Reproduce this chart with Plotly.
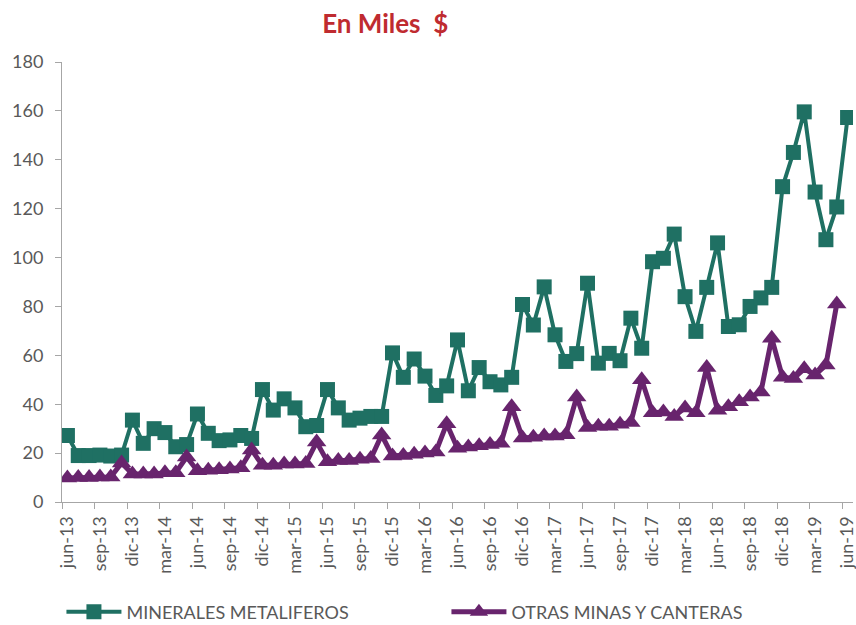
import plotly.graph_objects as go

# Etiquetas de meses (jun-13 a jun-19)
MESES_ABR = ['ene', 'feb', 'mar', 'abr', 'may', 'jun',
             'jul', 'ago', 'sep', 'oct', 'nov', 'dic']
MESES = [f"{MESES_ABR[(5 + k) % 12]}-{13 + (5 + k) // 12}" for k in range(73)]

MINERALES_METALIFEROS = [
    27.2, 19.0, 19.0, 19.2, 18.8, 19.2, 33.5, 24.0, 30.0, 28.4, 22.6, 23.5,
    36.0, 28.1, 25.1, 25.4, 27.2, 26.0, 46.0, 37.6, 42.2, 38.5, 30.8, 31.3,
    46.0, 38.5, 33.5, 34.3, 35.0, 35.0, 61.0, 51.0, 58.5, 51.5, 43.6, 47.5,
    66.3, 45.5, 55.0, 49.2, 47.9, 51.0, 80.8, 72.4, 88.0, 68.4, 57.5, 60.7,
    89.5, 56.8, 60.8, 57.8, 75.2, 62.9, 98.3, 99.7, 109.6, 84.0, 69.8, 87.8,
    106.0, 71.8, 72.5, 80.0, 83.5, 87.8, 129.0, 143.0, 159.6, 126.8, 107.3, 120.7,
    157.3,
]

OTRAS_MINAS_Y_CANTERAS = [
    9.8, 10.0, 10.0, 10.2, 10.2, 16.0, 11.5, 11.5, 11.5, 12.0, 12.0, 18.4,
    12.8, 13.0, 13.2, 13.5, 14.0, 21.3, 15.0, 15.0, 15.5, 15.5, 15.8, 24.5,
    16.5, 17.0, 17.0, 17.5, 17.8, 27.4, 18.8, 19.0, 19.5, 20.0, 20.5, 32.0,
    22.0, 22.5, 23.0, 23.5, 24.0, 39.0, 26.2, 26.5, 27.0, 27.0, 27.5, 43.0,
    30.5, 31.0, 31.0, 31.8, 32.5, 50.0, 36.5, 36.8, 35.0, 38.5, 36.5, 55.0,
    37.5, 39.0, 41.0, 43.0, 45.0, 67.0, 51.0, 50.5, 54.5, 52.0, 56.0, 81.0,
    None,
]

VERDE = '#1F7063'
MORADO = '#68246D'
GRIS_TEXTO = '#595959'
GRIS_EJE = '#A6A6A6'

x = list(range(len(MESES)))
tick_idx = x[::3]

fig = go.Figure()

fig.add_trace(go.Scatter(
    x=x, y=MINERALES_METALIFEROS,
    name='MINERALES METALIFEROS',
    mode='lines+markers',
    line=dict(color=VERDE, width=4),
    marker=dict(symbol='square', size=15, color=VERDE),
))

fig.add_trace(go.Scatter(
    x=x, y=OTRAS_MINAS_Y_CANTERAS,
    name='OTRAS MINAS Y CANTERAS',
    mode='lines+markers',
    line=dict(color=MORADO, width=5),
    marker=dict(symbol='triangle-up', size=17, color=MORADO),
))

fig.update_layout(
    width=856,
    height=625,
    margin=dict(l=62, r=3, t=62, b=123),
    plot_bgcolor='white',
    paper_bgcolor='white',
    font=dict(family='Lato, Open Sans, sans-serif', color=GRIS_TEXTO),
    title=dict(
        text='<b>En Miles  $</b>',
        x=0.45, xanchor='center',
        y=0.962, yanchor='middle',
        font=dict(size=26, color='#BF2B30', family='Lato, Open Sans, sans-serif'),
    ),
    xaxis=dict(
        range=[-0.5, len(MESES) - 0.5],
        tickvals=tick_idx,
        ticktext=[MESES[i] for i in tick_idx],
        tickangle=-90,
        ticks='',
        ticklabelstandoff=6,
        ticklabeloverflow='allow',
        automargin=False,
        showgrid=False,
        showline=True,
        linecolor=GRIS_EJE,
        linewidth=1,
        zeroline=False,
        tickfont=dict(size=18, color=GRIS_TEXTO),
        minor=dict(
            tickvals=[i - 0.5 for i in tick_idx],
            ticks='outside', ticklen=6, tickcolor=GRIS_EJE, showgrid=False,
        ),
    ),
    yaxis=dict(
        range=[0, 180],
        dtick=20,
        showgrid=False,
        showline=True,
        linecolor=GRIS_EJE,
        linewidth=1,
        ticks='outside',
        ticklen=6,
        tickcolor=GRIS_EJE,
        ticklabelstandoff=8,
        automargin=False,
        zeroline=False,
        tickfont=dict(size=18, color=GRIS_TEXTO),
    ),
    showlegend=True,
    legend=dict(
        orientation='h',
        xref='container', x=70 / 856 - 0.01, xanchor='left',
        yref='container', y=13 / 625, yanchor='middle',
        itemwidth=55,
        entrywidth=315,
        font=dict(size=18, color=GRIS_TEXTO),
        bgcolor='rgba(0,0,0,0)',
    ),
)

# el body trae margen por defecto; se quita para que la figura quede en 0,0
fig.write_html("out.html",
               config={'displayModeBar': False},
               post_script="document.body.style.margin='0';document.body.style.overflow='hidden';")
